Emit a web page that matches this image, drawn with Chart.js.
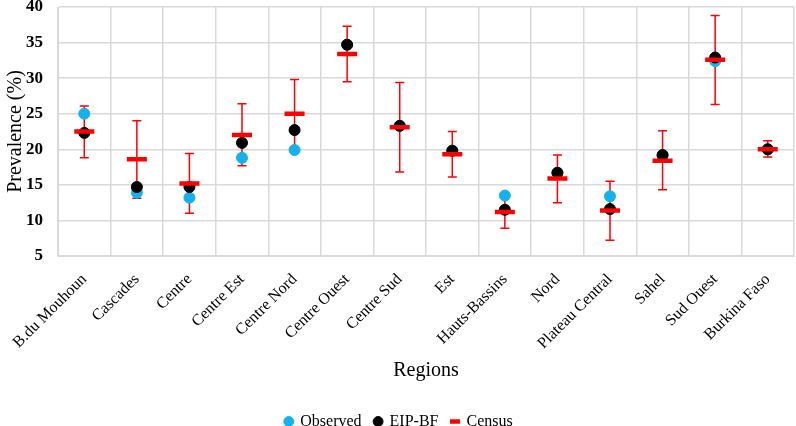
<!DOCTYPE html>
<html>
<head>
<meta charset="utf-8">
<script src="https://cdn.jsdelivr.net/npm/chart.js@4.4.0/dist/chart.umd.min.js"></script>
<style>
  html, body { margin: 0; background: #fff; overflow: hidden; }
  #wrap { width: 796px; height: 426px; }
</style>
</head>
<body>
<div id="wrap"><canvas id="prevChart"></canvas></div>
<script>
const regions = ['B.du Mouhoun', 'Cascades', 'Centre', 'Centre Est', 'Centre Nord', 'Centre Ouest',
  'Centre Sud', 'Est', 'Hauts-Bassins', 'Nord', 'Plateau Central', 'Sahel', 'Sud Ouest', 'Burkina Faso'];
const observed = [25.0, 13.9, 13.2, 18.8, 19.9, 34.7, 23.3, 19.8, 13.5, 16.7, 13.4, 19.1, 32.4, 20.0];
const eipBf = [22.3, 14.7, 14.7, 20.9, 22.7, 34.7, 23.3, 19.8, 11.5, 16.7, 11.6, 19.2, 32.9, 20.0];
const census = [22.5, 18.6, 15.2, 22.0, 25.0, 33.4, 23.1, 19.3, 11.2, 15.9, 11.4, 18.4, 32.6, 20.0];
const censusLow = [18.8, 13.1, 11.0, 17.7, 19.9, 29.5, 16.8, 16.1, 8.9, 12.5, 7.2, 14.3, 26.3, 18.9];
const censusHigh = [26.1, 24.0, 19.4, 26.4, 29.8, 37.3, 29.4, 22.5, 13.4, 19.2, 15.5, 22.6, 38.8, 21.2];
const yTicks = [5, 10, 15, 20, 25, 30, 35, 40];

const serif = '"Liberation Serif", "DejaVu Serif", serif';

// whiskers for the census interval, drawn under the points
const errorBars = {
  id: 'errorBars',
  beforeDatasetsDraw(chart) {
    const { ctx, scales: { x, y } } = chart;
    ctx.save();
    ctx.strokeStyle = '#ff0000';
    ctx.lineWidth = 1.5;
    censusLow.forEach((lo, i) => {
      const px = x.getPixelForValue(i);
      const yl = y.getPixelForValue(lo);
      const yh = y.getPixelForValue(censusHigh[i]);
      ctx.beginPath();
      ctx.moveTo(px, yl); ctx.lineTo(px, yh);
      ctx.moveTo(px - 4.5, yl); ctx.lineTo(px + 4.5, yl);
      ctx.moveTo(px - 4.5, yh); ctx.lineTo(px + 4.5, yh);
      ctx.stroke();
    });
    ctx.restore();
  }
};

// push the legend row down near the bottom edge
const legendNudge = {
  id: 'legendNudge',
  afterLayout(chart) {
    const lg = chart.legend;
    const shift = 420 - (lg.top + lg.bottom) / 2;
    lg.top += shift;
    lg.bottom += shift;
  }
};

new Chart(document.getElementById('prevChart'), {
  type: 'line',
  data: {
    labels: regions,
    datasets: [
      {
        label: 'Observed',
        data: observed,
        showLine: false,
        pointRadius: 5.5,
        pointBackgroundColor: '#15b1ec',
        pointBorderColor: '#15b1ec',
        backgroundColor: '#15b1ec',
        borderColor: '#15b1ec',
        order: 3,
      },
      {
        label: 'EIP-BF',
        data: eipBf,
        showLine: false,
        pointRadius: 5.5,
        pointBackgroundColor: '#000',
        pointBorderColor: '#000',
        backgroundColor: '#000',
        borderColor: '#000',
        order: 2,
      },
      {
        label: 'Census',
        data: census,
        showLine: false,
        pointStyle: 'line',
        pointRadius: 10,
        pointBorderWidth: 4.5,
        pointBorderColor: '#ff0000',
        backgroundColor: '#ff0000',
        borderColor: '#ff0000',
        borderWidth: 3,
        order: 1,
      },
    ],
  },
  options: {
    responsive: true,
    maintainAspectRatio: false,
    animation: false,
    layout: { autoPadding: false, padding: { left: 4, right: 2, top: 0, bottom: 0 } },
    plugins: {
      tooltip: { enabled: false },
      legend: {
        position: 'bottom',
        labels: {
          usePointStyle: true,
          boxWidth: 7,
          boxHeight: 7,
          padding: 13,
          color: '#000',
          font: { family: serif, size: 16 },
          sort: (a, b) => a.datasetIndex - b.datasetIndex,
        },
      },
    },
    scales: {
      x: {
        offset: true,
        grid: { offset: true, color: '#d9d9d9', lineWidth: 1.5, drawTicks: false },
        border: { color: '#d9d9d9' },
        afterFit: (s) => {
          s.paddingLeft = 0;
          s.paddingRight = 0;
          s.height = 426 - s.chart.legend.height - 256;
        },
        ticks: {
          minRotation: 45,
          maxRotation: 45,
          padding: 14,
          color: '#000',
          font: { family: serif, size: 16 },
        },
        title: {
          display: true,
          text: 'Regions',
          color: '#000',
          font: { family: serif, size: 20 },
          padding: { top: 4, bottom: 4 },
        },
      },
      y: {
        min: 5,
        max: 40,
        afterBuildTicks: (axis) => { axis.ticks = yTicks.map(v => ({ value: v })); },
        afterFit: (s) => {
          s.width = 54;
          s.paddingTop = 7;
          s.paddingBottom = 7;
        },
        grid: { color: '#d9d9d9', lineWidth: 1.5, drawTicks: false },
        border: { color: '#d9d9d9' },
        ticks: {
          padding: 15,
          color: '#000',
          font: { family: serif, size: 17, weight: 'bold' },
        },
        title: {
          display: true,
          text: 'Prevalence (%)',
          color: '#000',
          font: { family: serif, size: 20 },
          padding: { top: 0, bottom: 1 },
        },
      },
    },
  },
  plugins: [errorBars, legendNudge],
});
</script>
</body>
</html>
